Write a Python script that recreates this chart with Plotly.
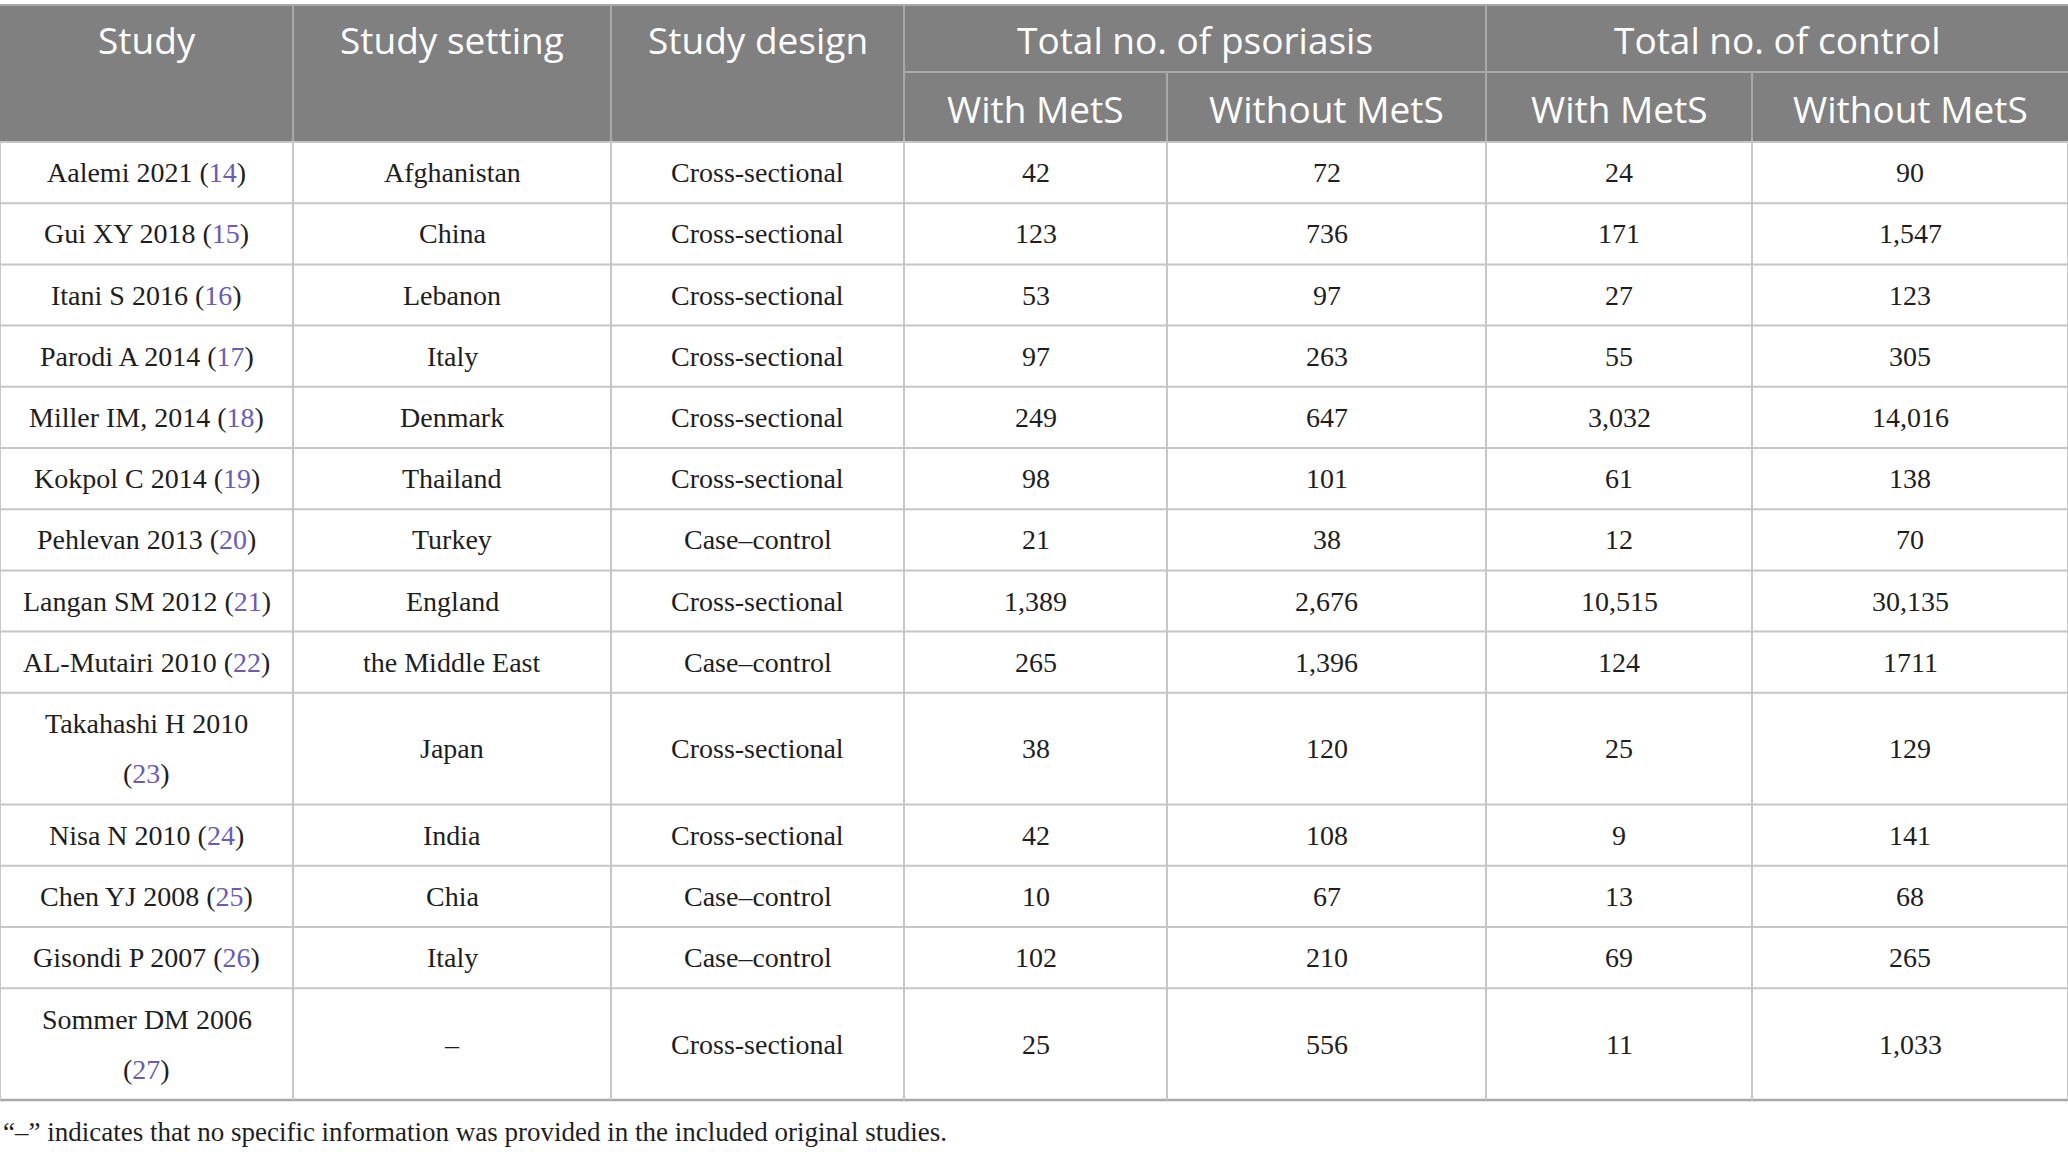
import plotly.graph_objects as go

# table contents
studies = ["Aalemi 2021", "Gui XY 2018", "Itani S 2016", "Parodi A 2014", "Miller IM, 2014",
           "Kokpol C 2014", "Pehlevan 2013", "Langan SM 2012", "AL-Mutairi 2010",
           "Takahashi H 2010", "Nisa N 2010", "Chen YJ 2008", "Gisondi P 2007", "Sommer DM 2006"]
refs = [14, 15, 16, 17, 18, 19, 20, 21, 22, 23, 24, 25, 26, 27]
settings = ["Afghanistan", "China", "Lebanon", "Italy", "Denmark", "Thailand", "Turkey",
            "England", "the Middle East", "Japan", "India", "Chia", "Italy", "–"]
designs = ["Cross-sectional", "Cross-sectional", "Cross-sectional", "Cross-sectional",
           "Cross-sectional", "Cross-sectional", "Case–control", "Cross-sectional",
           "Case–control", "Cross-sectional", "Cross-sectional", "Case–control",
           "Case–control", "Cross-sectional"]
pso_with = ["42", "123", "53", "97", "249", "98", "21", "1,389", "265", "38", "42", "10", "102", "25"]
pso_without = ["72", "736", "97", "263", "647", "101", "38", "2,676", "1,396", "120", "108", "67", "210", "556"]
ctl_with = ["24", "171", "27", "55", "3,032", "61", "12", "10,515", "124", "25", "9", "13", "69", "11"]
ctl_without = ["90", "1,547", "123", "305", "14,016", "138", "70", "30,135", "1711", "129", "141", "68", "265", "1,033"]
# study names whose citation sits on a second line
wrapped = ["Takahashi H 2010", "Sommer DM 2006"]

header_top = ["Study", "Study setting", "Study design"]
groups = ["Total no. of psoriasis", "Total no. of control"]
sub_headers = ["With MetS", "Without MetS", "With MetS", "Without MetS"]
footnote = "“–” indicates that no specific information was provided in the included original studies."

# geometry (pixels)
W, H = 2068, 1152
col_edges = [0, 293, 611, 904, 1167, 1486, 1752, 2068]
top, head_mid, head_bot = 5, 72, 142
row_h, row_h2 = 61.2, 111.8
line_gap = 50

HEAD_BG = "#808080"
HEAD_LINE = "#a9a9a9"
GRID = "#c6c6c6"
REF_COL = "#6a5cb0"
TXT = "#1e1e1e"
SERIF = "Liberation Serif"
SANS = "Open Sans"
BODY_SIZE = 28
HEAD_SIZE = 37

row_edges = [head_bot]
for s in studies:
    row_edges.append(row_edges[-1] + (row_h2 if s in wrapped else row_h))

shapes = []
shapes.append(dict(type="rect", x0=0, x1=W, y0=top, y1=head_bot, fillcolor=HEAD_BG,
                   line=dict(width=0), layer="below"))
# header lines
shapes.append(dict(type="line", x0=0, x1=W, y0=top, y1=top, line=dict(color=HEAD_LINE, width=2)))
shapes.append(dict(type="line", x0=col_edges[3], x1=W, y0=head_mid, y1=head_mid,
                   line=dict(color=HEAD_LINE, width=2)))
for i, x in enumerate(col_edges[1:-1], start=1):
    y0 = head_mid if i in (4, 6) else top
    shapes.append(dict(type="line", x0=x, x1=x, y0=y0, y1=head_bot, line=dict(color=HEAD_LINE, width=2)))
# body grid
for y in row_edges[:-1]:
    shapes.append(dict(type="line", x0=0, x1=W, y0=y, y1=y, line=dict(color=GRID, width=2)))
shapes.append(dict(type="line", x0=0, x1=W, y0=row_edges[-1], y1=row_edges[-1],
                   line=dict(color="#a8a8a8", width=2.5)))
for x in col_edges:
    shapes.append(dict(type="line", x0=x, x1=x, y0=head_bot, y1=row_edges[-1],
                       line=dict(color=GRID, width=2)))

annotations = []


def add_text(x, y, text, font, size, color, xanchor="center"):
    annotations.append(dict(x=x, y=y, xref="x", yref="y", text=text, showarrow=False,
                            xanchor=xanchor, yanchor="middle",
                            font=dict(family=font, size=size, color=color)))


centers = [(a + b) / 2 for a, b in zip(col_edges[:-1], col_edges[1:])]
y_head1 = (top + head_mid) / 2 + 1
y_head2 = (head_mid + head_bot) / 2 + 1
for i, t in enumerate(header_top):
    add_text(centers[i], y_head1, t, SANS, HEAD_SIZE, "white")
add_text((col_edges[3] + col_edges[5]) / 2, y_head1, groups[0], SANS, HEAD_SIZE, "white")
add_text((col_edges[5] + col_edges[7]) / 2, y_head1, groups[1], SANS, HEAD_SIZE, "white")
for j, t in enumerate(sub_headers):
    add_text(centers[3 + j], y_head2, t, SANS, HEAD_SIZE, "white")

row_mid = [(a + b) / 2 for a, b in zip(row_edges[:-1], row_edges[1:])]
for i, s in enumerate(studies):
    yc = row_mid[i]
    cite = f"(<span style='color:{REF_COL}'>{refs[i]}</span>)"
    if s in wrapped:
        add_text(centers[0], yc - line_gap / 2, s, SERIF, BODY_SIZE, TXT)
        add_text(centers[0], yc + line_gap / 2, cite, SERIF, BODY_SIZE, TXT)
    else:
        add_text(centers[0], yc, s + " " + cite, SERIF, BODY_SIZE, TXT)
    vals = [settings[i], designs[i], pso_with[i], pso_without[i], ctl_with[i], ctl_without[i]]
    for j, v in enumerate(vals):
        add_text(centers[1 + j], yc, v, SERIF, BODY_SIZE, TXT)

add_text(1, row_edges[-1] + 32, footnote, SERIF, 27, TXT, xanchor="left")

fig = go.Figure()
fig.add_trace(go.Scatter(x=centers, y=row_mid[:len(centers)], mode="markers",
                         marker=dict(opacity=0), hoverinfo="skip", showlegend=False))
fig.update_layout(
    width=W, height=H,
    margin=dict(l=0, r=0, t=0, b=0),
    paper_bgcolor="white", plot_bgcolor="white",
    xaxis=dict(range=[0, W], visible=False, fixedrange=True),
    yaxis=dict(range=[H, 0], visible=False, fixedrange=True),
    shapes=shapes, annotations=annotations,
)
fig.write_html("out.html", config={"displayModeBar": False},
               post_script="document.body.style.margin='0';document.body.style.overflow='hidden';")
